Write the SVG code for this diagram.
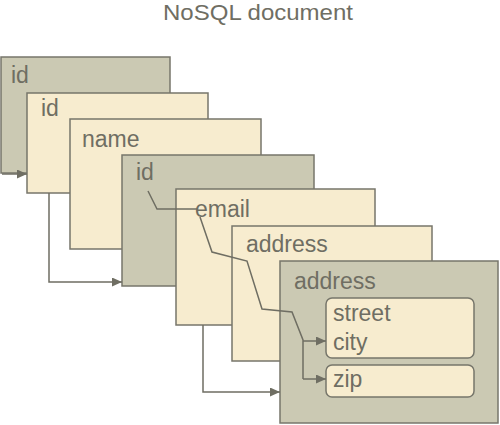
<svg xmlns="http://www.w3.org/2000/svg" width="500" height="425" viewBox="0 0 500 425">
<defs>
<style>
.g{fill:#cbc9b3;stroke:#77766b;stroke-width:1.5}
.c{fill:#f7eccf;stroke:#77766b;stroke-width:1.5}
.t{font-family:"Liberation Sans",Arial,sans-serif;font-size:23px;fill:#6f6e63}
.ln{fill:none;stroke:#6f6e63;stroke-width:1.5}
</style>
<marker id="ah" markerUnits="userSpaceOnUse" markerWidth="11" markerHeight="9" refX="10" refY="4.5" orient="auto">
<path d="M0,0 L10,4.5 L0,9 z" fill="#6f6e63"/>
</marker>
</defs>
<rect width="500" height="425" fill="#ffffff"/>
<text x="163" y="20" textLength="190" lengthAdjust="spacingAndGlyphs" style="font-family:'Liberation Sans',Arial,sans-serif;font-size:22px;fill:#6f6e63">NoSQL document</text>
<g id="box1"><rect class="g" x="1" y="57" width="169" height="116"/><text class="t" x="11" y="83">id</text></g>
<g id="box2"><rect class="c" x="27" y="93" width="181" height="100"/><text class="t" x="41" y="116">id</text></g>
<g id="box3"><rect class="c" x="70" y="119" width="191" height="130"/><text class="t" x="82" y="147">name</text></g>
<g id="box4"><rect class="g" x="122" y="155" width="192" height="131"/><text class="t" x="136" y="180">id</text></g>
<g id="box5"><rect class="c" x="176" y="189" width="199" height="136"/><text class="t" x="195" y="217">email</text></g>
<g id="box6"><rect class="c" x="232" y="226" width="200" height="135"/><text class="t" x="246" y="252">address</text></g>
<g id="box7"><rect class="g" x="280" y="261" width="218" height="162"/><text class="t" x="294" y="289">address</text></g>
<g id="street-city"><rect class="c" x="326" y="298" width="148" height="60" rx="6"/><text class="t" x="333" y="321">street</text><text class="t" x="333" y="350">city</text></g>
<g id="zip"><rect class="c" x="326" y="365" width="148" height="32" rx="6"/><text class="t" x="333" y="387">zip</text></g>
<g id="connectors">
<path class="ln" d="M2,174 H27" marker-end="url(#ah)"/>
<path class="ln" d="M49,193 V282 H122" marker-end="url(#ah)"/>
<path class="ln" d="M203,325 V392 H280" marker-end="url(#ah)"/>
<path class="ln" d="M148,191 L157,209 H197"/>
<path class="ln" d="M200,217 L212,252 L247,261 L262,309 L292,312 L303,340 V379"/>
<path class="ln" d="M303,341 H326" marker-end="url(#ah)"/>
<path class="ln" d="M303,379 H326" marker-end="url(#ah)"/>
</g>
</svg>
